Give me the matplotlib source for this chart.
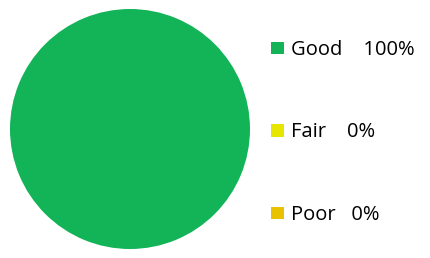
import matplotlib.pyplot as plt

labels = ['Good', 'Fair', 'Poor']
values = [100, 0, 0]
pct_text = ['    100%', '    0%', '   0%']
colors = ['#12b457', '#e6e600', '#e8c200']

plt.rcParams['font.family'] = ['Open Sans', 'DejaVu Sans']

fig = plt.figure(figsize=(4.31, 2.58), dpi=100)
ax = fig.add_axes([10 / 431, 9 / 258, 240 / 431, 240 / 258])
wedges, _ = ax.pie(values, colors=colors, startangle=90, counterclock=False,
                   wedgeprops=dict(linewidth=0))
ax.set_xlim(-1.0, 1.0)
ax.set_ylim(-1.0, 1.0)
ax.set_aspect('equal')

leg_labels = [l + p for l, p in zip(labels, pct_text)]
leg = fig.legend(wedges, leg_labels, loc='upper left', bbox_to_anchor=(263 / 431, 1 - 32 / 258),
                 frameon=False, fontsize=14.5, handlelength=0.62, handleheight=0.58,
                 handletextpad=0.35, labelspacing=3.1, borderaxespad=0)
for h in leg.legend_handles:
    h.set_edgecolor('none')

fig.savefig('out.png', dpi=100)
